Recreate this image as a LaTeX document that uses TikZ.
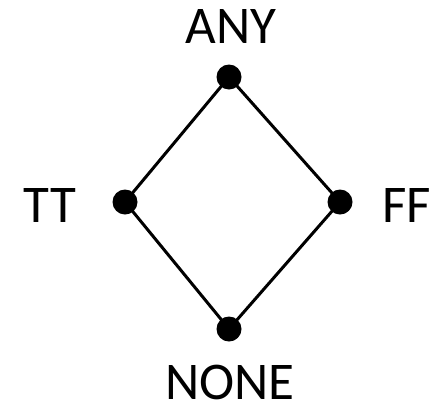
\documentclass[tikz,border=0pt]{standalone}
\usepackage{fontspec}
\setmainfont{Carlito}
\begin{document}
\begin{tikzpicture}[x=1pt,y=-1pt,
  dot/.style={circle,fill=black,inner sep=0pt,minimum size=25pt},
  lbl/.style={inner sep=0pt,font=\fontsize{53}{60}\selectfont},
  edge/.style={line width=3pt}]
\useasboundingbox (0,0) rectangle (430,405);
\node[dot] (any) at (229,77) {};
\node[dot] (tt) at (125,202) {};
\node[dot] (ff) at (340,202) {};
\node[dot] (none) at (229,329) {};
\draw[edge] (any.center) -- (tt.center) -- (none.center) -- (ff.center) -- (any.center);
\node[lbl] (lany) at (231,26) {ANY};
\node[lbl] (ltt) at (50,205.5) {TT};
\node[lbl] (lff) at (406.5,205.5) {FF};
\node[lbl] (lnone) at (230,382.5) {NONE};
\end{tikzpicture}
\end{document}
